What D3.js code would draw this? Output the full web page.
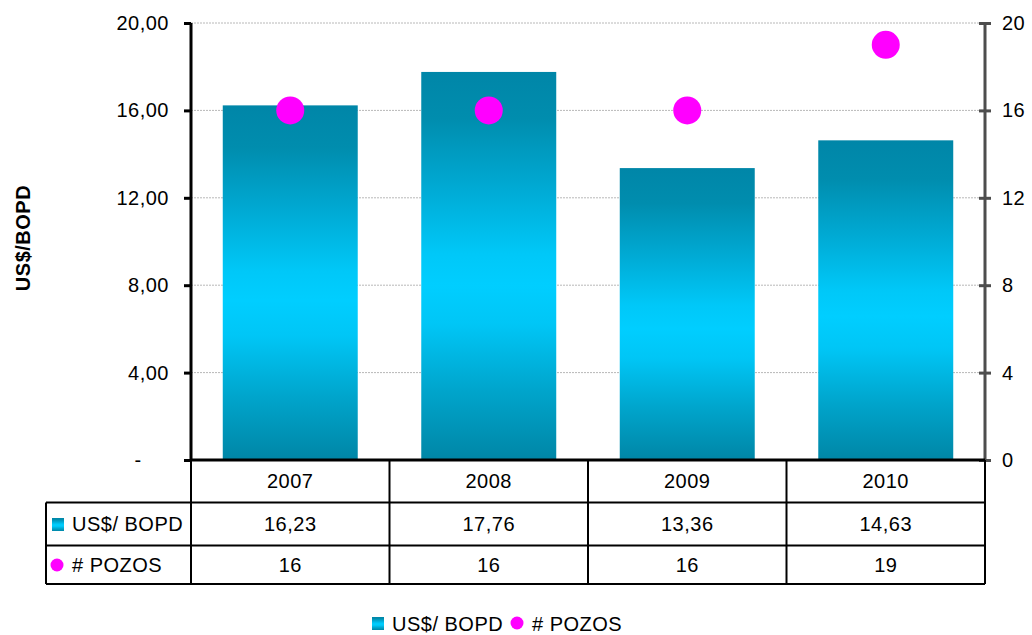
<!DOCTYPE html>
<html>
<head>
<meta charset="utf-8">
<script src="https://cdn.jsdelivr.net/npm/d3@7"></script>
<style>
  html, body { margin: 0; padding: 0; background: #fff; }
  svg { display: block; font-family: "Liberation Sans", Arial, sans-serif; }
  text { letter-spacing: 0.5px; }
</style>
</head>
<body>
<svg id="chart" width="1032" height="635"></svg>
<script>
const years = ["2007", "2008", "2009", "2010"];
const usdBopd = [16.23, 17.76, 13.36, 14.63];
const pozos = [16, 16, 16, 19];
const leftTicks = [0, 4, 8, 12, 16, 20];
const rightTicks = [0, 4, 8, 12, 16, 20];
const seriesNames = ["US$/ BOPD", "# POZOS"];
const yTitle = "US$/BOPD";

const fmtComma = v => d3.format(".2f")(v).replace(".", ",");

const svg = d3.select("#chart");
const plotL = 191, plotR = 985, plotT = 23, plotB = 460;

const x = d3.scaleBand().domain(years).range([plotL, plotR]).padding(0);
const yL = d3.scaleLinear().domain([0, 20]).range([plotB, plotT]);
const yR = d3.scaleLinear().domain([0, 20]).range([plotB, plotT]);

// gradient
const defs = svg.append("defs");
const grad = defs.append("linearGradient").attr("id", "barGrad")
  .attr("x1", 0).attr("y1", 0).attr("x2", 0).attr("y2", 1);
[[0, "#0086a8"], [0.12, "#008dae"], [0.3, "#00aad4"], [0.47, "#00c8f8"], [0.55, "#00ceff"], [0.65, "#00c6f6"], [0.82, "#00a5cc"], [1, "#0086a6"]]
  .forEach(([o, c]) => grad.append("stop").attr("offset", o).attr("stop-color", c));

// gridlines
svg.append("g").selectAll("line").data(leftTicks.filter(d => d > 0)).join("line")
  .attr("x1", plotL).attr("x2", plotR)
  .attr("y1", d => yL(d)).attr("y2", d => yL(d))
  .attr("stroke", "#b8b8b8").attr("stroke-width", 1).attr("stroke-dasharray", "2,1");

// bars
const bw = x.bandwidth() * 0.68;
svg.append("g").selectAll("rect").data(years).join("rect")
  .attr("x", d => x(d) + (x.bandwidth() - bw) / 2)
  .attr("width", bw)
  .attr("y", (d, i) => yL(usdBopd[i]))
  .attr("height", (d, i) => plotB - yL(usdBopd[i]))
  .attr("fill", "url(#barGrad)");

// dots
svg.append("g").selectAll("circle").data(years).join("circle")
  .attr("cx", d => x(d) + x.bandwidth() / 2)
  .attr("cy", (d, i) => yR(pozos[i]))
  .attr("r", 14)
  .attr("fill", "#ff00ff");

// left axis
const leftAxis = svg.append("g").attr("transform", `translate(${plotL},0)`)
  .call(d3.axisLeft(yL).tickValues(leftTicks).tickSize(7).tickPadding(15)
    .tickFormat(d => d === 0 ? "-" : fmtComma(d)));
leftAxis.select(".domain").attr("stroke", "#000").attr("stroke-width", 3)
  .attr("d", `M0,${plotT}V${plotB}`);
leftAxis.selectAll(".tick line").attr("stroke", "#000").attr("stroke-width", 3);
leftAxis.selectAll(".tick text").attr("fill", "#000").attr("font-size", 20)
  .attr("font-family", "Liberation Sans, Arial, sans-serif");
leftAxis.selectAll(".tick text").filter(d => d === 0)
  .attr("text-anchor", "middle").attr("x", -53);

// right axis
const rightAxis = svg.append("g").attr("transform", `translate(${plotR},0)`)
  .call(d3.axisRight(yR).tickValues(rightTicks).tickSize(6).tickPadding(11)
    .tickFormat(d3.format("d")));
rightAxis.select(".domain").attr("stroke", "#4d4d4d").attr("stroke-width", 3)
  .attr("d", `M0,${plotT}V${plotB}`);
rightAxis.selectAll(".tick line").attr("stroke", "#4d4d4d").attr("stroke-width", 3)
  .attr("x1", -6);
rightAxis.selectAll(".tick text").attr("fill", "#000").attr("font-size", 20)
  .attr("font-family", "Liberation Sans, Arial, sans-serif");

// y title
svg.append("text")
  .attr("transform", "translate(30,238) rotate(-90)")
  .attr("text-anchor", "middle")
  .attr("font-size", 20).attr("font-weight", "bold")
  .text(yTitle);

// data table
const rowY = [460, 502.5, 545.5, 584];
const tableL = 46;
const tbl = svg.append("g").attr("stroke", "#000").attr("stroke-width", 2);
tbl.append("line").attr("x1", plotL).attr("x2", plotR).attr("y1", rowY[0]).attr("y2", rowY[0]).attr("stroke-width", 3);
[rowY[1], rowY[2], rowY[3]].forEach(yy =>
  tbl.append("line").attr("x1", tableL).attr("x2", plotR).attr("y1", yy).attr("y2", yy));
tbl.append("line").attr("x1", tableL).attr("x2", tableL).attr("y1", rowY[1]).attr("y2", rowY[3]);
const colEdges = years.map(d => x(d)).concat([plotR]);
colEdges.forEach(xx =>
  tbl.append("line").attr("x1", xx).attr("x2", xx).attr("y1", rowY[0]).attr("y2", rowY[3]));

const rowText = svg.append("g").attr("font-size", 20).attr("fill", "#000").attr("text-anchor", "middle");
rowText.selectAll("text.yr").data(years).join("text").attr("class", "yr")
  .attr("x", d => x(d) + x.bandwidth() / 2).attr("y", (rowY[0] + rowY[1]) / 2 + 7)
  .text(d => d);
rowText.selectAll("text.v1").data(years).join("text").attr("class", "v1")
  .attr("x", d => x(d) + x.bandwidth() / 2).attr("y", (rowY[1] + rowY[2]) / 2 + 7)
  .text((d, i) => fmtComma(usdBopd[i]));
rowText.selectAll("text.v2").data(years).join("text").attr("class", "v2")
  .attr("x", d => x(d) + x.bandwidth() / 2).attr("y", (rowY[2] + rowY[3]) / 2 + 7)
  .text((d, i) => pozos[i]);

// table legend keys
svg.append("rect").attr("x", 52).attr("y", 518).attr("width", 12).attr("height", 13).attr("fill", "url(#barGrad)");
svg.append("text").attr("x", 72).attr("y", 531).attr("font-size", 20).text(seriesNames[0]);
svg.append("circle").attr("cx", 57).attr("cy", 565).attr("r", 6.5).attr("fill", "#ff00ff");
svg.append("text").attr("x", 72).attr("y", 572).attr("font-size", 20).text(seriesNames[1]);

// bottom legend
svg.append("rect").attr("x", 372).attr("y", 617).attr("width", 12).attr("height", 13).attr("fill", "url(#barGrad)");
svg.append("text").attr("x", 392).attr("y", 631).attr("font-size", 20).text(seriesNames[0]);
svg.append("circle").attr("cx", 517).attr("cy", 623).attr("r", 6.5).attr("fill", "#ff00ff");
svg.append("text").attr("x", 532).attr("y", 631).attr("font-size", 20).text(seriesNames[1]);
</script>
</body>
</html>
